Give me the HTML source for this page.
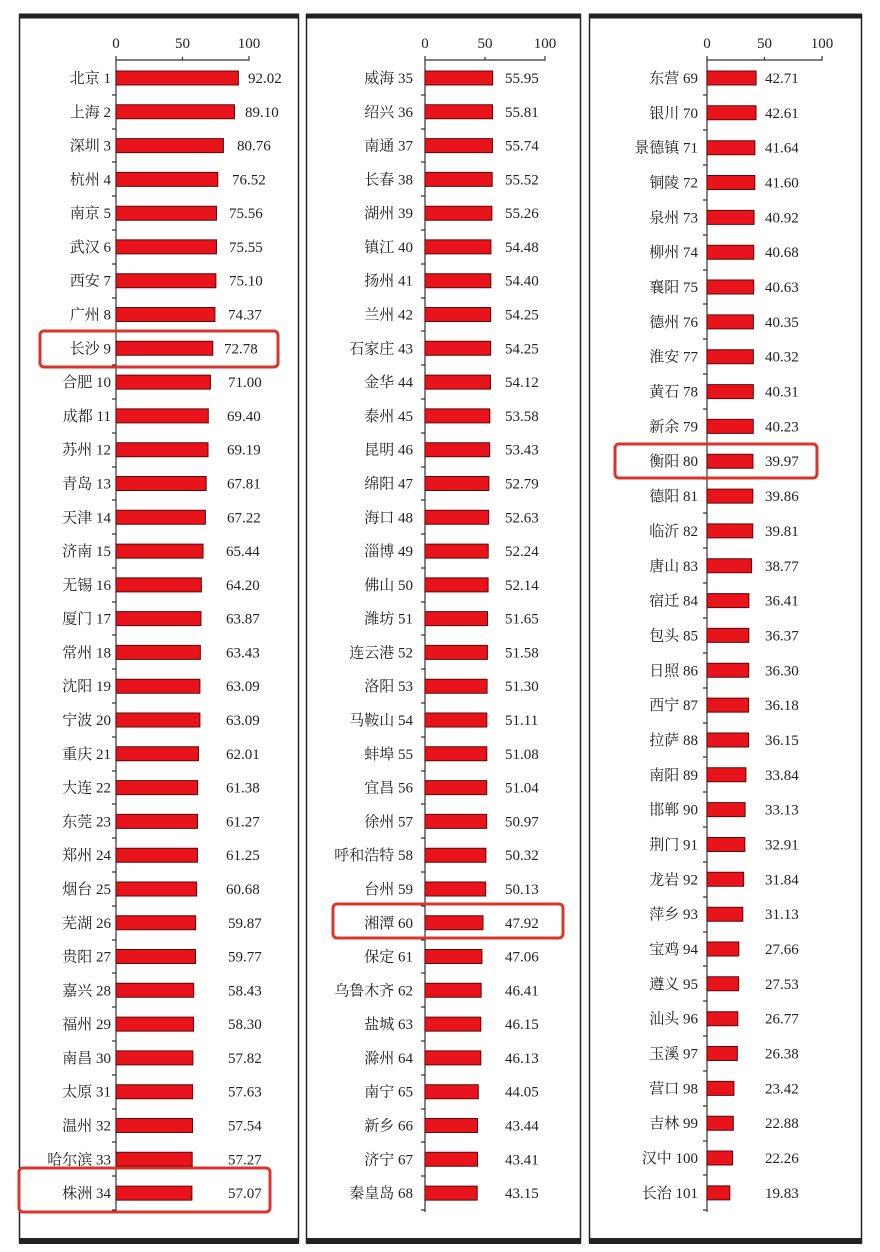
<!DOCTYPE html>
<html><head><meta charset="utf-8"><style>
html,body{margin:0;padding:0;background:#fff;}
svg{display:block}
text{font-family:"Liberation Serif","Noto Serif CJK SC",serif;font-size:15px;fill:#222}
.l{text-anchor:end}
rect.b{fill:#e8131b;stroke:#5a0a0a;stroke-width:1;vector-effect:non-scaling-stroke}
.ax{stroke:#333;stroke-width:1.2;fill:none}
.hb{fill:none;stroke:#d9352b;stroke-width:3}
</style></head><body>
<svg width="880" height="1252" viewBox="0 0 880 1252" xmlns="http://www.w3.org/2000/svg">
<!-- panel frames -->
<g stroke="#222" fill="none">
<line x1="19" y1="16" x2="299" y2="16" stroke-width="5"/>
<line x1="19" y1="1241" x2="299" y2="1241" stroke-width="6"/>
<line x1="19.5" y1="14" x2="19.5" y2="1243" stroke-width="1.5"/>
<line x1="298.5" y1="14" x2="298.5" y2="1243" stroke-width="1.5"/>
<line x1="306" y1="16" x2="581" y2="16" stroke-width="5"/>
<line x1="306" y1="1241" x2="581" y2="1241" stroke-width="6"/>
<line x1="306.5" y1="14" x2="306.5" y2="1243" stroke-width="1.5"/>
<line x1="580.5" y1="14" x2="580.5" y2="1243" stroke-width="1.5"/>
<line x1="589" y1="16" x2="862" y2="16" stroke-width="5"/>
<line x1="589" y1="1241" x2="862" y2="1241" stroke-width="6"/>
<line x1="589.5" y1="14" x2="589.5" y2="1243" stroke-width="1.5"/>
<line x1="861.5" y1="14" x2="861.5" y2="1243" stroke-width="1.5"/>
</g>
<!-- axes -->
<g class="ax">
<path d="M116 56V60H249V56M182.5 60V57"/><path d="M116 60V1212"/>
<path d="M425 56V60H545V56M485 60V57"/><path d="M425 60V1212"/>
<path d="M707 56V60H822V56M764.5 60V57"/><path d="M707 60V1212"/>
</g>
<g>
<text x="116" y="48" text-anchor="middle">0</text><text x="182.5" y="48" text-anchor="middle">50</text><text x="249" y="48" text-anchor="middle">100</text>
<text x="425" y="48" text-anchor="middle">0</text><text x="485" y="48" text-anchor="middle">50</text><text x="545" y="48" text-anchor="middle">100</text>
<text x="707" y="48" text-anchor="middle">0</text><text x="764.5" y="48" text-anchor="middle">50</text><text x="822" y="48" text-anchor="middle">100</text>
</g>
<!-- small ticks -->
<g stroke="#333" stroke-width="1.2">
<path d="M112 95h4M112 129h4M112 162h4M112 196h4M112 230h4M112 264h4M112 298h4M112 331h4M112 365h4M112 399h4M112 433h4M112 467h4M112 500h4M112 534h4M112 568h4M112 602h4M112 635h4M112 669h4M112 703h4M112 737h4M112 771h4M112 804h4M112 838h4M112 872h4M112 906h4M112 940h4M112 973h4M112 1007h4M112 1041h4M112 1075h4M112 1109h4M112 1142h4M112 1176h4M112 1210h4"/>
<path d="M421 95h4M421 129h4M421 162h4M421 196h4M421 230h4M421 264h4M421 298h4M421 331h4M421 365h4M421 399h4M421 433h4M421 467h4M421 500h4M421 534h4M421 568h4M421 602h4M421 635h4M421 669h4M421 703h4M421 737h4M421 771h4M421 804h4M421 838h4M421 872h4M421 906h4M421 940h4M421 973h4M421 1007h4M421 1041h4M421 1075h4M421 1109h4M421 1142h4M421 1176h4M421 1210h4"/>
<path d="M703 95h4M703 130h4M703 165h4M703 200h4M703 235h4M703 270h4M703 304h4M703 339h4M703 374h4M703 409h4M703 444h4M703 479h4M703 513h4M703 548h4M703 583h4M703 618h4M703 653h4M703 688h4M703 723h4M703 757h4M703 792h4M703 827h4M703 862h4M703 897h4M703 932h4M703 966h4M703 1001h4M703 1036h4M703 1071h4M703 1106h4M703 1141h4M703 1175h4M703 1210h4"/>
</g>

<!-- Panel 1 -->
<g>
<g transform="translate(0,78)"><text class="l" x="111" y="5">北京 1</text><rect class="b" transform="translate(116,-7) scale(1.33,1)" width="92.02" height="14"/><text x="248" y="5">92.02</text></g>
<g transform="translate(0,111.8)"><text class="l" x="111" y="5">上海 2</text><rect class="b" transform="translate(116,-7) scale(1.33,1)" width="89.10" height="14"/><text x="245" y="5">89.10</text></g>
<g transform="translate(0,145.6)"><text class="l" x="111" y="5">深圳 3</text><rect class="b" transform="translate(116,-7) scale(1.33,1)" width="80.76" height="14"/><text x="237" y="5">80.76</text></g>
<g transform="translate(0,179.4)"><text class="l" x="111" y="5">杭州 4</text><rect class="b" transform="translate(116,-7) scale(1.33,1)" width="76.52" height="14"/><text x="232" y="5">76.52</text></g>
<g transform="translate(0,213.2)"><text class="l" x="111" y="5">南京 5</text><rect class="b" transform="translate(116,-7) scale(1.33,1)" width="75.56" height="14"/><text x="229" y="5">75.56</text></g>
<g transform="translate(0,246.9)"><text class="l" x="111" y="5">武汉 6</text><rect class="b" transform="translate(116,-7) scale(1.33,1)" width="75.55" height="14"/><text x="229" y="5">75.55</text></g>
<g transform="translate(0,280.7)"><text class="l" x="111" y="5">西安 7</text><rect class="b" transform="translate(116,-7) scale(1.33,1)" width="75.10" height="14"/><text x="229" y="5">75.10</text></g>
<g transform="translate(0,314.5)"><text class="l" x="111" y="5">广州 8</text><rect class="b" transform="translate(116,-7) scale(1.33,1)" width="74.37" height="14"/><text x="228" y="5">74.37</text></g>
<g transform="translate(0,348.3)"><text class="l" x="111" y="5">长沙 9</text><rect class="b" transform="translate(116,-7) scale(1.33,1)" width="72.78" height="14"/><text x="224" y="5">72.78</text></g>
<g transform="translate(0,382.1)"><text class="l" x="111" y="5">合肥 10</text><rect class="b" transform="translate(116,-7) scale(1.33,1)" width="71.00" height="14"/><text x="228" y="5">71.00</text></g>
<g transform="translate(0,415.9)"><text class="l" x="111" y="5">成都 11</text><rect class="b" transform="translate(116,-7) scale(1.33,1)" width="69.40" height="14"/><text x="227" y="5">69.40</text></g>
<g transform="translate(0,449.7)"><text class="l" x="111" y="5">苏州 12</text><rect class="b" transform="translate(116,-7) scale(1.33,1)" width="69.19" height="14"/><text x="227" y="5">69.19</text></g>
<g transform="translate(0,483.5)"><text class="l" x="111" y="5">青岛 13</text><rect class="b" transform="translate(116,-7) scale(1.33,1)" width="67.81" height="14"/><text x="227" y="5">67.81</text></g>
<g transform="translate(0,517.3)"><text class="l" x="111" y="5">天津 14</text><rect class="b" transform="translate(116,-7) scale(1.33,1)" width="67.22" height="14"/><text x="227" y="5">67.22</text></g>
<g transform="translate(0,551.1)"><text class="l" x="111" y="5">济南 15</text><rect class="b" transform="translate(116,-7) scale(1.33,1)" width="65.44" height="14"/><text x="226" y="5">65.44</text></g>
<g transform="translate(0,584.9)"><text class="l" x="111" y="5">无锡 16</text><rect class="b" transform="translate(116,-7) scale(1.33,1)" width="64.20" height="14"/><text x="226" y="5">64.20</text></g>
<g transform="translate(0,618.6)"><text class="l" x="111" y="5">厦门 17</text><rect class="b" transform="translate(116,-7) scale(1.33,1)" width="63.87" height="14"/><text x="226" y="5">63.87</text></g>
<g transform="translate(0,652.4)"><text class="l" x="111" y="5">常州 18</text><rect class="b" transform="translate(116,-7) scale(1.33,1)" width="63.43" height="14"/><text x="226" y="5">63.43</text></g>
<g transform="translate(0,686.2)"><text class="l" x="111" y="5">沈阳 19</text><rect class="b" transform="translate(116,-7) scale(1.33,1)" width="63.09" height="14"/><text x="226" y="5">63.09</text></g>
<g transform="translate(0,720.0)"><text class="l" x="111" y="5">宁波 20</text><rect class="b" transform="translate(116,-7) scale(1.33,1)" width="63.09" height="14"/><text x="226" y="5">63.09</text></g>
<g transform="translate(0,753.8)"><text class="l" x="111" y="5">重庆 21</text><rect class="b" transform="translate(116,-7) scale(1.33,1)" width="62.01" height="14"/><text x="226" y="5">62.01</text></g>
<g transform="translate(0,787.6)"><text class="l" x="111" y="5">大连 22</text><rect class="b" transform="translate(116,-7) scale(1.33,1)" width="61.38" height="14"/><text x="226" y="5">61.38</text></g>
<g transform="translate(0,821.4)"><text class="l" x="111" y="5">东莞 23</text><rect class="b" transform="translate(116,-7) scale(1.33,1)" width="61.27" height="14"/><text x="226" y="5">61.27</text></g>
<g transform="translate(0,855.2)"><text class="l" x="111" y="5">郑州 24</text><rect class="b" transform="translate(116,-7) scale(1.33,1)" width="61.25" height="14"/><text x="226" y="5">61.25</text></g>
<g transform="translate(0,889.0)"><text class="l" x="111" y="5">烟台 25</text><rect class="b" transform="translate(116,-7) scale(1.33,1)" width="60.68" height="14"/><text x="226" y="5">60.68</text></g>
<g transform="translate(0,922.8)"><text class="l" x="111" y="5">芜湖 26</text><rect class="b" transform="translate(116,-7) scale(1.33,1)" width="59.87" height="14"/><text x="228" y="5">59.87</text></g>
<g transform="translate(0,956.5)"><text class="l" x="111" y="5">贵阳 27</text><rect class="b" transform="translate(116,-7) scale(1.33,1)" width="59.77" height="14"/><text x="228" y="5">59.77</text></g>
<g transform="translate(0,990.3)"><text class="l" x="111" y="5">嘉兴 28</text><rect class="b" transform="translate(116,-7) scale(1.33,1)" width="58.43" height="14"/><text x="228" y="5">58.43</text></g>
<g transform="translate(0,1024.1)"><text class="l" x="111" y="5">福州 29</text><rect class="b" transform="translate(116,-7) scale(1.33,1)" width="58.30" height="14"/><text x="228" y="5">58.30</text></g>
<g transform="translate(0,1057.9)"><text class="l" x="111" y="5">南昌 30</text><rect class="b" transform="translate(116,-7) scale(1.33,1)" width="57.82" height="14"/><text x="228" y="5">57.82</text></g>
<g transform="translate(0,1091.7)"><text class="l" x="111" y="5">太原 31</text><rect class="b" transform="translate(116,-7) scale(1.33,1)" width="57.63" height="14"/><text x="228" y="5">57.63</text></g>
<g transform="translate(0,1125.5)"><text class="l" x="111" y="5">温州 32</text><rect class="b" transform="translate(116,-7) scale(1.33,1)" width="57.54" height="14"/><text x="228" y="5">57.54</text></g>
<g transform="translate(0,1159.3)"><text class="l" x="111" y="5">哈尔滨 33</text><rect class="b" transform="translate(116,-7) scale(1.33,1)" width="57.27" height="14"/><text x="228" y="5">57.27</text></g>
<g transform="translate(0,1193.1)"><text class="l" x="111" y="5">株洲 34</text><rect class="b" transform="translate(116,-7) scale(1.33,1)" width="57.07" height="14"/><text x="228" y="5">57.07</text></g>
</g>

<!-- Panel 2 -->
<g>
<g transform="translate(0,78)"><text class="l" x="413" y="5">威海 35</text><rect class="b" transform="translate(425,-7) scale(1.21,1)" width="55.95" height="14"/><text x="505" y="5">55.95</text></g>
<g transform="translate(0,111.8)"><text class="l" x="413" y="5">绍兴 36</text><rect class="b" transform="translate(425,-7) scale(1.21,1)" width="55.81" height="14"/><text x="505" y="5">55.81</text></g>
<g transform="translate(0,145.6)"><text class="l" x="413" y="5">南通 37</text><rect class="b" transform="translate(425,-7) scale(1.21,1)" width="55.74" height="14"/><text x="505" y="5">55.74</text></g>
<g transform="translate(0,179.4)"><text class="l" x="413" y="5">长春 38</text><rect class="b" transform="translate(425,-7) scale(1.21,1)" width="55.52" height="14"/><text x="505" y="5">55.52</text></g>
<g transform="translate(0,213.2)"><text class="l" x="413" y="5">湖州 39</text><rect class="b" transform="translate(425,-7) scale(1.21,1)" width="55.26" height="14"/><text x="505" y="5">55.26</text></g>
<g transform="translate(0,246.9)"><text class="l" x="413" y="5">镇江 40</text><rect class="b" transform="translate(425,-7) scale(1.21,1)" width="54.48" height="14"/><text x="505" y="5">54.48</text></g>
<g transform="translate(0,280.7)"><text class="l" x="413" y="5">扬州 41</text><rect class="b" transform="translate(425,-7) scale(1.21,1)" width="54.40" height="14"/><text x="505" y="5">54.40</text></g>
<g transform="translate(0,314.5)"><text class="l" x="413" y="5">兰州 42</text><rect class="b" transform="translate(425,-7) scale(1.21,1)" width="54.25" height="14"/><text x="505" y="5">54.25</text></g>
<g transform="translate(0,348.3)"><text class="l" x="413" y="5">石家庄 43</text><rect class="b" transform="translate(425,-7) scale(1.21,1)" width="54.25" height="14"/><text x="505" y="5">54.25</text></g>
<g transform="translate(0,382.1)"><text class="l" x="413" y="5">金华 44</text><rect class="b" transform="translate(425,-7) scale(1.21,1)" width="54.12" height="14"/><text x="505" y="5">54.12</text></g>
<g transform="translate(0,415.9)"><text class="l" x="413" y="5">泰州 45</text><rect class="b" transform="translate(425,-7) scale(1.21,1)" width="53.58" height="14"/><text x="505" y="5">53.58</text></g>
<g transform="translate(0,449.7)"><text class="l" x="413" y="5">昆明 46</text><rect class="b" transform="translate(425,-7) scale(1.21,1)" width="53.43" height="14"/><text x="505" y="5">53.43</text></g>
<g transform="translate(0,483.5)"><text class="l" x="413" y="5">绵阳 47</text><rect class="b" transform="translate(425,-7) scale(1.21,1)" width="52.79" height="14"/><text x="505" y="5">52.79</text></g>
<g transform="translate(0,517.3)"><text class="l" x="413" y="5">海口 48</text><rect class="b" transform="translate(425,-7) scale(1.21,1)" width="52.63" height="14"/><text x="505" y="5">52.63</text></g>
<g transform="translate(0,551.1)"><text class="l" x="413" y="5">淄博 49</text><rect class="b" transform="translate(425,-7) scale(1.21,1)" width="52.24" height="14"/><text x="505" y="5">52.24</text></g>
<g transform="translate(0,584.9)"><text class="l" x="413" y="5">佛山 50</text><rect class="b" transform="translate(425,-7) scale(1.21,1)" width="52.14" height="14"/><text x="505" y="5">52.14</text></g>
<g transform="translate(0,618.6)"><text class="l" x="413" y="5">潍坊 51</text><rect class="b" transform="translate(425,-7) scale(1.21,1)" width="51.65" height="14"/><text x="505" y="5">51.65</text></g>
<g transform="translate(0,652.4)"><text class="l" x="413" y="5">连云港 52</text><rect class="b" transform="translate(425,-7) scale(1.21,1)" width="51.58" height="14"/><text x="505" y="5">51.58</text></g>
<g transform="translate(0,686.2)"><text class="l" x="413" y="5">洛阳 53</text><rect class="b" transform="translate(425,-7) scale(1.21,1)" width="51.30" height="14"/><text x="505" y="5">51.30</text></g>
<g transform="translate(0,720.0)"><text class="l" x="413" y="5">马鞍山 54</text><rect class="b" transform="translate(425,-7) scale(1.21,1)" width="51.11" height="14"/><text x="505" y="5">51.11</text></g>
<g transform="translate(0,753.8)"><text class="l" x="413" y="5">蚌埠 55</text><rect class="b" transform="translate(425,-7) scale(1.21,1)" width="51.08" height="14"/><text x="505" y="5">51.08</text></g>
<g transform="translate(0,787.6)"><text class="l" x="413" y="5">宜昌 56</text><rect class="b" transform="translate(425,-7) scale(1.21,1)" width="51.04" height="14"/><text x="505" y="5">51.04</text></g>
<g transform="translate(0,821.4)"><text class="l" x="413" y="5">徐州 57</text><rect class="b" transform="translate(425,-7) scale(1.21,1)" width="50.97" height="14"/><text x="505" y="5">50.97</text></g>
<g transform="translate(0,855.2)"><text class="l" x="413" y="5">呼和浩特 58</text><rect class="b" transform="translate(425,-7) scale(1.21,1)" width="50.32" height="14"/><text x="505" y="5">50.32</text></g>
<g transform="translate(0,889.0)"><text class="l" x="413" y="5">台州 59</text><rect class="b" transform="translate(425,-7) scale(1.21,1)" width="50.13" height="14"/><text x="505" y="5">50.13</text></g>
<g transform="translate(0,922.8)"><text class="l" x="413" y="5">湘潭 60</text><rect class="b" transform="translate(425,-7) scale(1.21,1)" width="47.92" height="14"/><text x="505" y="5">47.92</text></g>
<g transform="translate(0,956.5)"><text class="l" x="413" y="5">保定 61</text><rect class="b" transform="translate(425,-7) scale(1.21,1)" width="47.06" height="14"/><text x="505" y="5">47.06</text></g>
<g transform="translate(0,990.3)"><text class="l" x="413" y="5">乌鲁木齐 62</text><rect class="b" transform="translate(425,-7) scale(1.21,1)" width="46.41" height="14"/><text x="505" y="5">46.41</text></g>
<g transform="translate(0,1024.1)"><text class="l" x="413" y="5">盐城 63</text><rect class="b" transform="translate(425,-7) scale(1.21,1)" width="46.15" height="14"/><text x="505" y="5">46.15</text></g>
<g transform="translate(0,1057.9)"><text class="l" x="413" y="5">滁州 64</text><rect class="b" transform="translate(425,-7) scale(1.21,1)" width="46.13" height="14"/><text x="505" y="5">46.13</text></g>
<g transform="translate(0,1091.7)"><text class="l" x="413" y="5">南宁 65</text><rect class="b" transform="translate(425,-7) scale(1.21,1)" width="44.05" height="14"/><text x="505" y="5">44.05</text></g>
<g transform="translate(0,1125.5)"><text class="l" x="413" y="5">新乡 66</text><rect class="b" transform="translate(425,-7) scale(1.21,1)" width="43.44" height="14"/><text x="505" y="5">43.44</text></g>
<g transform="translate(0,1159.3)"><text class="l" x="413" y="5">济宁 67</text><rect class="b" transform="translate(425,-7) scale(1.21,1)" width="43.41" height="14"/><text x="505" y="5">43.41</text></g>
<g transform="translate(0,1193.1)"><text class="l" x="413" y="5">秦皇岛 68</text><rect class="b" transform="translate(425,-7) scale(1.21,1)" width="43.15" height="14"/><text x="505" y="5">43.15</text></g>
</g>

<!-- Panel 3 -->
<g>
<g transform="translate(0,78)"><text class="l" x="698" y="5">东营 69</text><rect class="b" transform="translate(707,-7) scale(1.15,1)" width="42.71" height="14"/><text x="765" y="5">42.71</text></g>
<g transform="translate(0,112.8)"><text class="l" x="698" y="5">银川 70</text><rect class="b" transform="translate(707,-7) scale(1.15,1)" width="42.61" height="14"/><text x="765" y="5">42.61</text></g>
<g transform="translate(0,147.7)"><text class="l" x="698" y="5">景德镇 71</text><rect class="b" transform="translate(707,-7) scale(1.15,1)" width="41.64" height="14"/><text x="765" y="5">41.64</text></g>
<g transform="translate(0,182.5)"><text class="l" x="698" y="5">铜陵 72</text><rect class="b" transform="translate(707,-7) scale(1.15,1)" width="41.60" height="14"/><text x="765" y="5">41.60</text></g>
<g transform="translate(0,217.4)"><text class="l" x="698" y="5">泉州 73</text><rect class="b" transform="translate(707,-7) scale(1.15,1)" width="40.92" height="14"/><text x="765" y="5">40.92</text></g>
<g transform="translate(0,252.2)"><text class="l" x="698" y="5">柳州 74</text><rect class="b" transform="translate(707,-7) scale(1.15,1)" width="40.68" height="14"/><text x="765" y="5">40.68</text></g>
<g transform="translate(0,287.0)"><text class="l" x="698" y="5">襄阳 75</text><rect class="b" transform="translate(707,-7) scale(1.15,1)" width="40.63" height="14"/><text x="765" y="5">40.63</text></g>
<g transform="translate(0,321.9)"><text class="l" x="698" y="5">德州 76</text><rect class="b" transform="translate(707,-7) scale(1.15,1)" width="40.35" height="14"/><text x="765" y="5">40.35</text></g>
<g transform="translate(0,356.7)"><text class="l" x="698" y="5">淮安 77</text><rect class="b" transform="translate(707,-7) scale(1.15,1)" width="40.32" height="14"/><text x="765" y="5">40.32</text></g>
<g transform="translate(0,391.6)"><text class="l" x="698" y="5">黄石 78</text><rect class="b" transform="translate(707,-7) scale(1.15,1)" width="40.31" height="14"/><text x="765" y="5">40.31</text></g>
<g transform="translate(0,426.4)"><text class="l" x="698" y="5">新余 79</text><rect class="b" transform="translate(707,-7) scale(1.15,1)" width="40.23" height="14"/><text x="765" y="5">40.23</text></g>
<g transform="translate(0,461.2)"><text class="l" x="698" y="5">衡阳 80</text><rect class="b" transform="translate(707,-7) scale(1.15,1)" width="39.97" height="14"/><text x="765" y="5">39.97</text></g>
<g transform="translate(0,496.1)"><text class="l" x="698" y="5">德阳 81</text><rect class="b" transform="translate(707,-7) scale(1.15,1)" width="39.86" height="14"/><text x="765" y="5">39.86</text></g>
<g transform="translate(0,530.9)"><text class="l" x="698" y="5">临沂 82</text><rect class="b" transform="translate(707,-7) scale(1.15,1)" width="39.81" height="14"/><text x="765" y="5">39.81</text></g>
<g transform="translate(0,565.8)"><text class="l" x="698" y="5">唐山 83</text><rect class="b" transform="translate(707,-7) scale(1.15,1)" width="38.77" height="14"/><text x="765" y="5">38.77</text></g>
<g transform="translate(0,600.6)"><text class="l" x="698" y="5">宿迁 84</text><rect class="b" transform="translate(707,-7) scale(1.15,1)" width="36.41" height="14"/><text x="765" y="5">36.41</text></g>
<g transform="translate(0,635.4)"><text class="l" x="698" y="5">包头 85</text><rect class="b" transform="translate(707,-7) scale(1.15,1)" width="36.37" height="14"/><text x="765" y="5">36.37</text></g>
<g transform="translate(0,670.3)"><text class="l" x="698" y="5">日照 86</text><rect class="b" transform="translate(707,-7) scale(1.15,1)" width="36.30" height="14"/><text x="765" y="5">36.30</text></g>
<g transform="translate(0,705.1)"><text class="l" x="698" y="5">西宁 87</text><rect class="b" transform="translate(707,-7) scale(1.15,1)" width="36.18" height="14"/><text x="765" y="5">36.18</text></g>
<g transform="translate(0,740.0)"><text class="l" x="698" y="5">拉萨 88</text><rect class="b" transform="translate(707,-7) scale(1.15,1)" width="36.15" height="14"/><text x="765" y="5">36.15</text></g>
<g transform="translate(0,774.8)"><text class="l" x="698" y="5">南阳 89</text><rect class="b" transform="translate(707,-7) scale(1.15,1)" width="33.84" height="14"/><text x="765" y="5">33.84</text></g>
<g transform="translate(0,809.6)"><text class="l" x="698" y="5">邯郸 90</text><rect class="b" transform="translate(707,-7) scale(1.15,1)" width="33.13" height="14"/><text x="765" y="5">33.13</text></g>
<g transform="translate(0,844.5)"><text class="l" x="698" y="5">荆门 91</text><rect class="b" transform="translate(707,-7) scale(1.15,1)" width="32.91" height="14"/><text x="765" y="5">32.91</text></g>
<g transform="translate(0,879.3)"><text class="l" x="698" y="5">龙岩 92</text><rect class="b" transform="translate(707,-7) scale(1.15,1)" width="31.84" height="14"/><text x="765" y="5">31.84</text></g>
<g transform="translate(0,914.2)"><text class="l" x="698" y="5">萍乡 93</text><rect class="b" transform="translate(707,-7) scale(1.15,1)" width="31.13" height="14"/><text x="765" y="5">31.13</text></g>
<g transform="translate(0,949.0)"><text class="l" x="698" y="5">宝鸡 94</text><rect class="b" transform="translate(707,-7) scale(1.15,1)" width="27.66" height="14"/><text x="765" y="5">27.66</text></g>
<g transform="translate(0,983.8)"><text class="l" x="698" y="5">遵义 95</text><rect class="b" transform="translate(707,-7) scale(1.15,1)" width="27.53" height="14"/><text x="765" y="5">27.53</text></g>
<g transform="translate(0,1018.7)"><text class="l" x="698" y="5">汕头 96</text><rect class="b" transform="translate(707,-7) scale(1.15,1)" width="26.77" height="14"/><text x="765" y="5">26.77</text></g>
<g transform="translate(0,1053.5)"><text class="l" x="698" y="5">玉溪 97</text><rect class="b" transform="translate(707,-7) scale(1.15,1)" width="26.38" height="14"/><text x="765" y="5">26.38</text></g>
<g transform="translate(0,1088.4)"><text class="l" x="698" y="5">营口 98</text><rect class="b" transform="translate(707,-7) scale(1.15,1)" width="23.42" height="14"/><text x="765" y="5">23.42</text></g>
<g transform="translate(0,1123.2)"><text class="l" x="698" y="5">吉林 99</text><rect class="b" transform="translate(707,-7) scale(1.15,1)" width="22.88" height="14"/><text x="765" y="5">22.88</text></g>
<g transform="translate(0,1158.0)"><text class="l" x="698" y="5">汉中 100</text><rect class="b" transform="translate(707,-7) scale(1.15,1)" width="22.26" height="14"/><text x="765" y="5">22.26</text></g>
<g transform="translate(0,1192.9)"><text class="l" x="698" y="5">长治 101</text><rect class="b" transform="translate(707,-7) scale(1.15,1)" width="19.83" height="14"/><text x="765" y="5">19.83</text></g>
</g>

<!-- highlight boxes -->
<rect class="hb" x="40" y="331" width="238" height="36" rx="4"/>
<rect class="hb" x="19" y="1168" width="251" height="44" rx="4"/>
<rect class="hb" x="333" y="904" width="230" height="34" rx="4"/>
<rect class="hb" x="615" y="444" width="202" height="34" rx="4"/>
</svg>
</body></html>
